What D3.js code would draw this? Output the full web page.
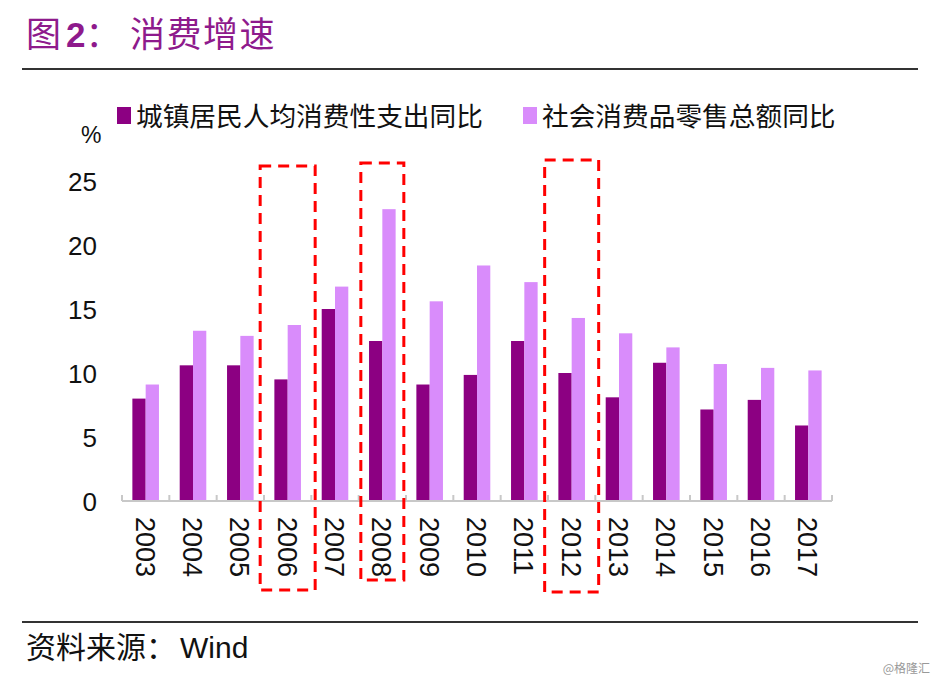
<!DOCTYPE html>
<html><head><meta charset="utf-8">
<script src="https://cdn.jsdelivr.net/npm/d3@7"></script>
<style>body{margin:0;background:#fff;} svg{display:block;}</style>
</head><body>
<svg id="c" width="935" height="683"></svg>
<script>
const years = ["2003","2004","2005","2006","2007","2008","2009","2010","2011","2012","2013","2014","2015","2016","2017"];
const seriesNames = ["城镇居民人均消费性支出同比","社会消费品零售总额同比"];
const urbanSpending = [8.0,10.6,10.6,9.5,15.0,12.5,9.1,9.85,12.5,10.0,8.1,10.8,7.15,7.9,5.9];
const retailSales = [9.1,13.3,12.9,13.75,16.75,22.8,15.6,18.4,17.1,14.3,13.1,12.0,10.7,10.4,10.2];
const yTicks = [0,5,10,15,20,25];
const highlighted = [
  {year:"2006", half:27.5, top:166, bottom:590},
  {year:"2008", half:21.5, top:163, bottom:580},
  {year:"2012", half:27,   top:160, bottom:592}
];
const colors = ["#8c0082","#d98cfb"];

const svg = d3.select("#c");
const CJK = "'Noto Sans CJK SC', sans-serif";
const LAT = "'Liberation Sans', Arial, sans-serif";

// title
const t = svg.append("text").attr("x",26).attr("y",47).attr("fill","#8e1a8c")
  .attr("font-family",CJK).attr("font-size",35);
t.append("tspan").text("图");
t.append("tspan").attr("x",66).attr("font-family",LAT).attr("font-weight","bold").text("2");
t.append("tspan").text("：");
t.append("tspan").attr("x",130).attr("letter-spacing",1.5).text("消费增速");
svg.append("line").attr("x1",22).attr("x2",918).attr("y1",69).attr("y2",69).attr("stroke","#333").attr("stroke-width",2.2);
svg.append("line").attr("x1",22).attr("x2",918).attr("y1",622).attr("y2",622).attr("stroke","#333").attr("stroke-width",2.2);
svg.append("text").attr("x",26).attr("y",658).attr("font-family",CJK).attr("font-size",30).attr("fill","#111").text("资料来源：");
svg.append("text").attr("x",180).attr("y",658).attr("font-family",LAT).attr("font-size",30).attr("fill","#111").text("Wind");
svg.append("text").attr("x",930).attr("y",673).attr("text-anchor","end").attr("font-family",CJK).attr("font-size",12).attr("fill","#999").text("@格隆汇");

// scales
const x = d3.scaleBand().domain(years).range([122,832]).padding(0);
const x1 = d3.scaleBand().domain([0,1]).range([0,x.bandwidth()]).paddingInner(0).paddingOuter(0.78);
const y = d3.scaleLinear().domain([0,25]).range([501,181]);

// bars
const data = years.map((yr,i)=>({yr, v:[urbanSpending[i], retailSales[i]]}));
const g = svg.append("g");
data.forEach(d=>{
  d.v.forEach((v,k)=>{
    g.append("rect").attr("x",x(d.yr)+x1(k)).attr("width",x1.bandwidth())
      .attr("y",y(v)).attr("height",y(0)-y(v)).attr("fill",colors[k]);
  });
});

// x axis
const xAxis = svg.append("g").attr("transform","translate(0,501)");
xAxis.append("line").attr("x1",122).attr("x2",832).attr("stroke","#c8c8c8").attr("stroke-width",2);
years.concat(["end"]).forEach((yr,i)=>{
  const xx = 122 + i*x.step();
  xAxis.append("line").attr("x1",xx).attr("x2",xx).attr("y1",0).attr("y2",-6).attr("stroke","#c8c8c8").attr("stroke-width",2);
});
years.forEach(yr=>{
  xAxis.append("text").attr("transform",`translate(${x(yr)+x.bandwidth()/2-10},16) rotate(90)`)
    .attr("font-family",LAT).attr("font-size",27).attr("fill","#111").text(yr);
});

// y axis labels
const yAxis = d3.axisLeft(y).tickValues(yTicks).tickSize(0).tickPadding(0);
const ya = svg.append("g").attr("transform","translate(97,0)").call(yAxis);
ya.select(".domain").remove();
ya.selectAll("text").attr("font-family",LAT).attr("font-size",26).attr("fill","#111").attr("dy","0.36em");
svg.append("text").attr("x",81).attr("y",143).attr("font-family",LAT).attr("font-size",23).attr("fill","#111").text("%");

// legend
seriesNames.forEach((n,i)=>{
  const lx = [117,523][i];
  svg.append("rect").attr("x",lx).attr("y",107).attr("width",14).attr("height",17).attr("fill",colors[i]);
  svg.append("text").attr("x",lx+19).attr("y",126).attr("font-family",CJK).attr("font-size",26.7).attr("fill","#111").text(n);
});

// highlight boxes
highlighted.forEach(h=>{
  const cx = x(h.year)+x.bandwidth()/2;
  svg.append("rect").attr("x",cx-h.half).attr("y",h.top).attr("width",2*h.half).attr("height",h.bottom-h.top)
    .attr("fill","none").attr("stroke","#f00").attr("stroke-width",3).attr("stroke-dasharray","11,7");
});
</script>
</body></html>
